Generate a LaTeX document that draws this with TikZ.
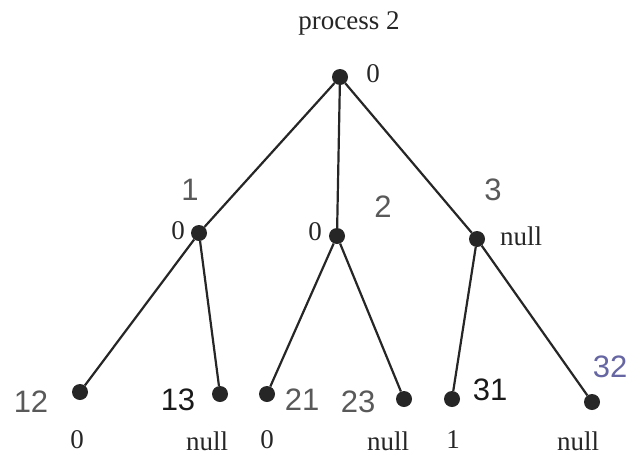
\documentclass[tikz,border=0pt]{standalone}
\usepackage{fontspec}
\setmainfont{Liberation Serif}
\newfontfamily\handfont{Liberation Sans}
\begin{document}
\begin{tikzpicture}[x=1pt,y=-1pt,
  dot/.style={circle,fill=black!85,inner sep=0pt,minimum size=16pt},
  edge/.style={line width=2.2pt,black!85},
  lbl/.style={font=\fontsize{27}{27}\selectfont,text=black!85,inner sep=0pt},
  hand/.style={font=\handfont\fontsize{31}{31}\selectfont,text=black!65,inner sep=0pt}]
\useasboundingbox (0,0) rectangle (639,461);
\node[lbl] (title) at (349,23) {process 2};
\node[dot] (r) at (340,77) {};
\node[dot] (a) at (199,233) {};
\node[dot] (b) at (337,236) {};
\node[dot] (c) at (477,239) {};
\node[dot] (a1) at (80,392) {};
\node[dot] (a2) at (220,394) {};
\node[dot] (b1) at (267,394) {};
\node[dot] (b2) at (404,399) {};
\node[dot] (c1) at (452,399) {};
\node[dot] (c2) at (592,402) {};
\foreach \u/\v in {r/a,r/b,r/c,a/a1,a/a2,b/b1,b/b2,c/c1,c/c2} \draw[edge] (\u) -- (\v);
% printed values
\node[lbl] (lr) at (373,74) {0};
\node[lbl] (la) at (178,231) {0};
\node[lbl] (lb) at (315,232) {0};
\node[lbl] (lc) at (521,236) {null};
\node[lbl] (la1) at (77,440) {0};
\node[lbl] (la2) at (207,441) {null};
\node[lbl] (lb1) at (267,440) {0};
\node[lbl] (lb2) at (388,441) {null};
\node[lbl] (lc1) at (453,440) {1};
\node[lbl] (lc2) at (578,441) {null};
% handwritten ids
\node[hand] (h1) at (190,190) {1};
\node[hand] (h2) at (383,207) {2};
\node[hand] (h3) at (493,190) {3};
\node[hand] (h12) at (31,402) {12};
\node[hand,text=black!90] (h13) at (178,400) {13};
\node[hand] (h21) at (302,400) {21};
\node[hand] (h23) at (358,402) {23};
\node[hand,text=black!90] (h31) at (490,390) {31};
\node[hand,text=blue!40!black!60] (h32) at (610,367) {32};
\end{tikzpicture}
\end{document}
